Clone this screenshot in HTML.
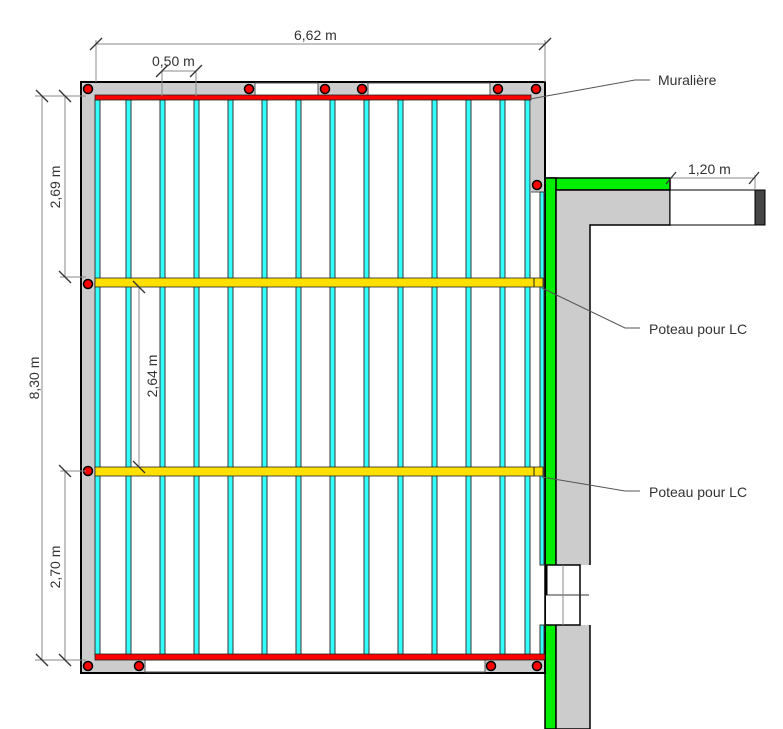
<!DOCTYPE html>
<html><head><meta charset="utf-8"><style>body{margin:0;background:#fff}svg{display:block}text{font-family:"Liberation Sans",sans-serif;fill:#333;font-size:14px}</style></head><body>
<svg width="783" height="729" viewBox="0 0 783 729" xmlns="http://www.w3.org/2000/svg">
<!-- wall -->
<rect x="545" y="178" width="125" height="12" fill="#00ee00" stroke="#000" stroke-width="1.5"/>
<rect x="545" y="178" width="11" height="551" fill="#00ee00" stroke="#000" stroke-width="1.5"/>
<path d="M556 190 H670 V225 H590 V729 H556 Z" fill="#ccc" stroke="#000" stroke-width="1.5"/>
<rect x="579" y="565" width="13" height="60" fill="#fff"/>
<rect x="545" y="565" width="35" height="60" fill="#fff" stroke="#000" stroke-width="1.5"/>
<line x1="545" y1="595" x2="589" y2="595" stroke="#333"/>
<line x1="563" y1="565" x2="563" y2="625" stroke="#888"/>
<line x1="546" y1="565" x2="546" y2="595" stroke="#000" stroke-width="3"/>
<rect x="670" y="190" width="85" height="35" fill="#fff" stroke="#000" stroke-width="1"/>
<rect x="755" y="190" width="10" height="35" fill="#444" stroke="#000"/>
<!-- frame -->
<rect x="81" y="82" width="464" height="591" fill="#ccc" stroke="#000" stroke-width="2"/>
<rect x="95" y="96" width="436" height="564" fill="#fff"/>
<rect x="531" y="192" width="14" height="468" fill="#fff"/>
<line x1="545" y1="192" x2="545" y2="673" stroke="#000" stroke-width="1.5"/>
<line x1="531" y1="192" x2="545" y2="192" stroke="#555"/>
<rect x="255" y="83" width="63" height="13" fill="#fff" stroke="#555"/>
<rect x="368" y="83" width="122" height="13" fill="#fff" stroke="#555"/>
<rect x="145" y="660" width="340" height="12" fill="#fff" stroke="#555"/>
<g fill="#33ffff" stroke="#333" stroke-width="1">
<rect x="95" y="100" width="5" height="555"/><rect x="126" y="100" width="5" height="555"/><rect x="160" y="100" width="5" height="555"/><rect x="194" y="100" width="5" height="555"/><rect x="228" y="100" width="5" height="555"/><rect x="262" y="100" width="5" height="555"/><rect x="296" y="100" width="5" height="555"/><rect x="330" y="100" width="5" height="555"/><rect x="364" y="100" width="5" height="555"/><rect x="398" y="100" width="5" height="555"/><rect x="432" y="100" width="5" height="555"/><rect x="466" y="100" width="5" height="555"/><rect x="500" y="100" width="5" height="555"/><rect x="525" y="100" width="5" height="555"/>
<rect x="540" y="192" width="4" height="373"/><rect x="540" y="625" width="4" height="30"/>
</g>
<rect x="95" y="95" width="436" height="5" fill="#f00" stroke="#222" stroke-width="0.8"/>
<rect x="95" y="654" width="450" height="6" fill="#f00" stroke="#222" stroke-width="0.8"/>
<rect x="95" y="278" width="448" height="9" fill="#ffe000" stroke="#222" stroke-width="0.8"/>
<rect x="95" y="467" width="448" height="9" fill="#ffe000" stroke="#222" stroke-width="0.8"/>
<line x1="534" y1="278" x2="534" y2="287" stroke="#222"/><line x1="534" y1="467" x2="534" y2="476" stroke="#222"/>
<g fill="#f00" stroke="#000" stroke-width="1.5">
<circle cx="88" cy="89" r="4.5"/><circle cx="249" cy="89" r="4.5"/><circle cx="325" cy="89" r="4.5"/><circle cx="362" cy="89" r="4.5"/><circle cx="498" cy="89" r="4.5"/><circle cx="536" cy="89" r="4.5"/><circle cx="537" cy="185" r="4.5"/>
<circle cx="88" cy="284" r="4.5"/><circle cx="88" cy="471" r="4.5"/>
<circle cx="88" cy="666" r="4.5"/><circle cx="139" cy="666" r="4.5"/><circle cx="491" cy="666" r="4.5"/><circle cx="537" cy="666" r="4.5"/>
</g>
<!-- dimensions -->
<g stroke="#888" stroke-width="1" fill="none">
<line x1="96" y1="44" x2="545" y2="44"/><line x1="96" y1="40" x2="96" y2="82"/><line x1="545" y1="40" x2="545" y2="82"/>
<line x1="162" y1="71" x2="196" y2="71"/><line x1="162" y1="71" x2="162" y2="96"/><line x1="196" y1="71" x2="196" y2="96"/>
<line x1="42" y1="96" x2="42" y2="660"/><line x1="65" y1="96" x2="65" y2="277"/><line x1="65" y1="471" x2="65" y2="660"/>
<line x1="35" y1="96" x2="86" y2="96"/><line x1="60" y1="277" x2="86" y2="277"/><line x1="60" y1="471" x2="86" y2="471"/><line x1="35" y1="660" x2="86" y2="660"/>
<line x1="139" y1="287" x2="139" y2="467"/>
<line x1="670" y1="178" x2="755" y2="178"/><line x1="755" y1="175" x2="755" y2="190"/>
</g>
<g stroke="#333" stroke-width="1.3">
<line x1="90" y1="50" x2="102" y2="38"/><line x1="539" y1="50" x2="551" y2="38"/>
<line x1="156" y1="77" x2="168" y2="65"/><line x1="190" y1="77" x2="202" y2="65"/>
<line x1="36" y1="90" x2="48" y2="102"/><line x1="59" y1="90" x2="71" y2="102"/>
<line x1="59" y1="271" x2="71" y2="283"/><line x1="59" y1="465" x2="71" y2="477"/>
<line x1="36" y1="654" x2="48" y2="666"/><line x1="59" y1="654" x2="71" y2="666"/>
<line x1="133" y1="281" x2="145" y2="293"/><line x1="133" y1="461" x2="145" y2="473"/>
<line x1="666" y1="184" x2="676" y2="172"/><line x1="749" y1="184" x2="759" y2="172"/>
</g>
<text x="294" y="40">6,62 m</text>
<text x="152" y="66">0,50 m</text>
<text x="688" y="174">1,20 m</text>
<text transform="translate(39,378) rotate(-90)" text-anchor="middle">8,30 m</text>
<text transform="translate(60,187) rotate(-90)" text-anchor="middle">2,69 m</text>
<text transform="translate(60,567) rotate(-90)" text-anchor="middle">2,70 m</text>
<text transform="translate(157,376) rotate(-90)" text-anchor="middle">2,64 m</text>
<!-- leaders -->
<g stroke="#555" fill="none" stroke-width="1">
<polyline points="530,99 635,80 650,80"/>
<polyline points="542,288 625,328 640,328"/>
<polyline points="542,477 625,491 640,491"/>
</g>
<text x="658" y="85">Muralière</text>
<text x="649" y="334">Poteau pour LC</text>
<text x="649" y="497">Poteau pour LC</text>
</svg>
</body></html>
